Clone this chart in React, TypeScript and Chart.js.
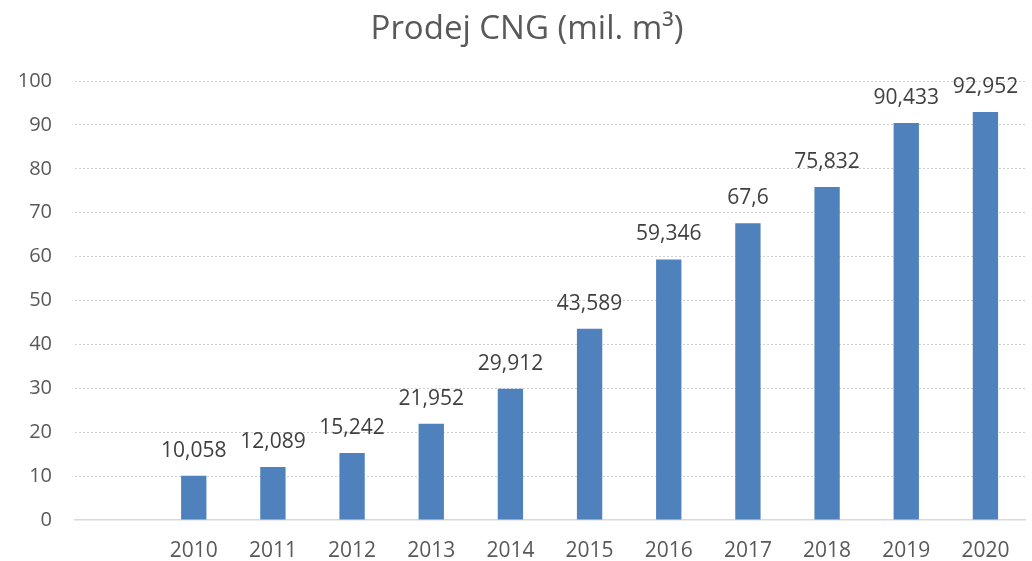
import React, { useEffect, useRef } from "react";
import { Chart, registerables } from "chart.js";

Chart.register(...registerables);

const categories: string[] = ["", "2010", "2011", "2012", "2013", "2014", "2015", "2016", "2017", "2018", "2019", "2020"];
const salesValues: (number | null)[] = [null, 10.058, 12.089, 15.242, 21.952, 29.912, 43.589, 59.346, 67.6, 75.832, 90.433, 92.952];
const yTicks: number[] = [0, 10, 20, 30, 40, 50, 60, 70, 80, 90, 100];
const titleText = "Prodej CNG (mil. m³)";

const FONT = "'Open Sans', 'Noto Sans', sans-serif";

const valueLabelPlugin = {
  id: "valueLabels",
  afterDatasetsDraw(chart: any) {
    const ctx = chart.ctx;
    const meta = chart.getDatasetMeta(0);
    ctx.save();
    ctx.font = `21px ${FONT}`;
    ctx.fillStyle = "#404040";
    ctx.textAlign = "center";
    ctx.textBaseline = "alphabetic";
    meta.data.forEach((bar: any, i: number) => {
      const v = salesValues[i];
      if (v === null || v === undefined) return;
      const text = String(v).replace(".", ",");
      ctx.fillText(text, bar.x, bar.y - 19);
    });
    ctx.restore();
  },
};

const titlePlugin = {
  id: "centeredTitle",
  afterDraw(chart: any) {
    const ctx = chart.ctx;
    ctx.save();
    ctx.font = `33px ${FONT}`;
    ctx.fillStyle = "#595959";
    ctx.textAlign = "center";
    ctx.textBaseline = "middle";
    ctx.fillText(titleText, 527, 30);
    ctx.restore();
  },
};

export default function App() {
  const canvasRef = useRef<HTMLCanvasElement | null>(null);

  useEffect(() => {
    document.body.style.margin = "0";
    const canvas = canvasRef.current;
    if (!canvas) return;
    const chart = new Chart(canvas, {
      type: "bar",
      data: {
        labels: categories,
        datasets: [
          {
            data: salesValues as any,
            backgroundColor: "#4f81bd",
            borderWidth: 0,
            barPercentage: 0.32,
            categoryPercentage: 1,
          },
        ],
      },
      options: {
        animation: false,
        responsive: false,
        maintainAspectRatio: false,
        layout: { padding: { left: 0, right: 7, top: 81, bottom: 0 } },
        plugins: {
          legend: { display: false },
          tooltip: { enabled: false },
          title: { display: false },
        },
        scales: {
          x: {
            grid: { display: false, drawTicks: false },
            border: { display: true, color: "#d9d9d9", width: 1.5 },
            afterFit(axis: any) {
              axis.height = 41;
            },
            ticks: {
              color: "#595959",
              font: { family: FONT, size: 21 },
              padding: 18,
              maxRotation: 0,
              autoSkip: false,
            },
          },
          y: {
            min: 0,
            max: 100,
            afterBuildTicks(axis: any) {
              axis.ticks = yTicks.map((v) => ({ value: v }));
            },
            afterFit(axis: any) {
              axis.width = 75;
            },
            grid: {
              color: (c: any) => (c.tick && c.tick.value === 0 ? "rgba(0,0,0,0)" : "#d0d0d0"),
              drawTicks: false,
              lineWidth: 1,
            },
            border: { display: false, dash: [2, 2] },
            ticks: {
              color: "#595959",
              font: { family: FONT, size: 20 },
              padding: 23,
            },
          },
        },
      },
      plugins: [valueLabelPlugin, titlePlugin],
    });
    return () => chart.destroy();
  }, []);

  return (
    <div style={{ position: "fixed", left: 0, top: 0, width: 1032, height: 561, background: "#fff" }}>
      <canvas ref={canvasRef} width={1032} height={561} style={{ width: 1032, height: 561 }} />
    </div>
  );
}
